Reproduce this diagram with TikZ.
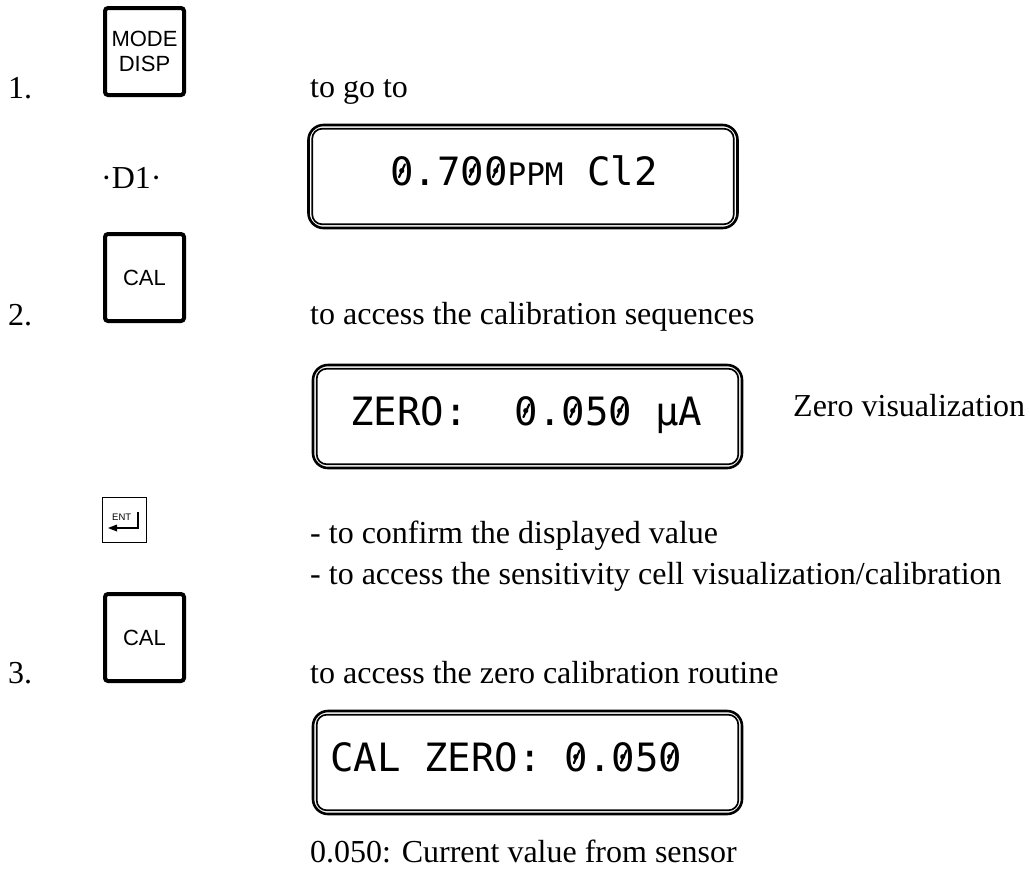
\documentclass[tikz,border=0pt]{standalone}
\usepackage{fontspec}
\setmainfont{Liberation Serif}
\setsansfont{Liberation Sans}
\setmonofont{DejaVu Sans Mono}
\usetikzlibrary{calc}
\newcommand\slz{\makebox[0pt][l]{0}\makebox[0.602em][c]{\tikz[baseline=0pt]\draw[line width=0.055em,line cap=round] (-0.075em,0.2em) -- (0.075em,0.53em);}}
\begin{document}
\begin{tikzpicture}[x=1pt,y=-1pt,
  txt/.style={anchor=base west,inner sep=0pt,font=\fontsize{32}{38}\selectfont},
  keybox/.style={draw,line width=4pt,rounded corners=3pt,inner sep=0pt,
    minimum width=79pt,minimum height=87pt,align=center,
    font=\sffamily\fontsize{22}{25}\selectfont},
  lcd/.style={draw,line width=2.6pt,rounded corners=15pt,inner sep=0pt,
    minimum width=429pt,minimum height=103pt},
  lcdtxt/.style={anchor=base west,inner sep=0pt,font=\ttfamily\fontsize{39}{44}\selectfont},
  inner/.style={line width=1.7pt,rounded corners=10pt}
]
\useasboundingbox (0,0) rectangle (1030,873);
% step 1
\node[txt] (n1) at (8,98) {1.};
\node[keybox] (mode) at (144.5,51.5) {MODE\\DISP};
\node[txt] (t1) at (310,97) {to go to};
\node[txt] (d1) at (101,188) {·D1·};
\node[lcd] (lcd1) at (523,176.5) {};
\draw[inner] ($(lcd1.north west)+(5,5)$) rectangle ($(lcd1.south east)+(-5,-5)$);
\node[lcdtxt] (l1) at (390,185) {\slz.7\slz\slz{\fontsize{31}{36}\selectfont PPM} Cl2};
% step 2
\node[txt] (n2) at (8,325) {2.};
\node[keybox] (cal1) at (144.5,277.5) {CAL};
\node[txt] (t2) at (310,324) {to access the calibration sequences};
\node[lcd] (lcd2) at (527.5,416.5) {};
\draw[inner] ($(lcd2.north west)+(5,5)$) rectangle ($(lcd2.south east)+(-5,-5)$);
\node[lcdtxt] (l2) at (350,425) {ZERO:\ \ \slz.\slz5\slz\ µA};
\node[txt] (zv) at (793,416) {Zero visualization};
% ENT key
\node[draw,line width=1.5pt,inner sep=0pt,minimum width=44pt,minimum height=45pt] (ent) at (124.5,520) {};
\node[anchor=base west,inner sep=0pt,font=\sffamily\fontsize{9.5}{11}\selectfont] (entt) at (112,520) {ENT};
\draw[line width=1.2pt] (138,512) -- (138,528) -- (114,528);
\fill (108,528) -- (117,524.5) -- (117,531.5) -- cycle;
\node[txt] (t3) at (310,543) {- to confirm the displayed value};
\node[txt] (t4) at (310,584) {- to access the sensitivity cell visualization/calibration};
% step 3
\node[txt] (n3) at (8,683) {3.};
\node[keybox] (cal2) at (144.5,637.5) {CAL};
\node[txt] (t5) at (310,683) {to access the zero calibration routine};
\node[lcd] (lcd3) at (527.5,762.5) {};
\draw[inner] ($(lcd3.north west)+(5,5)$) rectangle ($(lcd3.south east)+(-5,-5)$);
\node[lcdtxt] (l3) at (330,771) {CAL ZERO: \slz.\slz5\slz};
\node[txt] (t6) at (310,862) {0.050: Current value from sensor};
\end{tikzpicture}
\end{document}
